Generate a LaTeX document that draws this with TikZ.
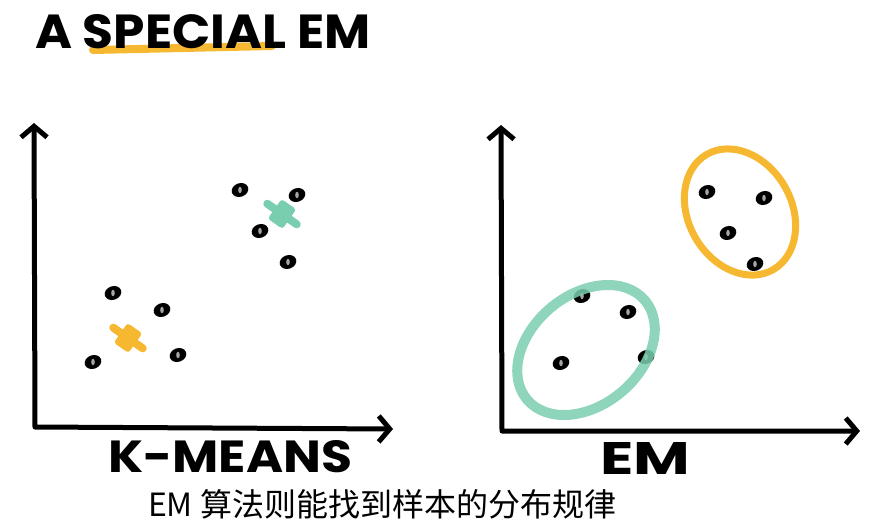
\documentclass[tikz,border=0pt]{standalone}
\usepackage{fontspec}
\usetikzlibrary{arrows.meta}
\newfontfamily\handfont{Poppins}
\newfontfamily\cjkfont{Noto Sans CJK SC}
\definecolor{emteal}{RGB}{122,206,176}
\definecolor{emyellow}{RGB}{245,184,48}

\begin{document}
\begin{tikzpicture}[x=1pt,y=-1pt,
  axis/.style={line width=5pt,line join=round,
    {Straight Barb[length=11pt,width=26pt]}-{Straight Barb[length=11pt,width=26pt]}},
  hand/.style={inner sep=0pt,anchor=west,font=\handfont\bfseries},
  ring/.style={line width=#1}]
  \useasboundingbox (0,0) rectangle (870,523);

  % title with marker stroke
  \draw[emyellow,line width=8pt,line cap=round] (93,50) -- (272,46);
  \node[hand] (title) at (35,32) {\resizebox{335pt}{34pt}{A SPECIAL EM}};

  % axes
  \coordinate (lo) at (35,427);
  \coordinate (ly) at (34,123);
  \coordinate (lx) at (393,429);
  \coordinate (ro) at (502,431);
  \coordinate (ry) at (501,125);
  \coordinate (rx) at (860,431);
  \draw[axis] (ly) -- (lo) -- (lx);
  \draw[axis] (ry) -- (ro) -- (rx);

  % data points
  \foreach \px/\py in {240/190, 297/195, 260/231, 288/262, 113/293, 162/310, 93/362, 178/355,
                       707/192, 764/198, 728/233, 755/264, 582/296, 628/312, 561/363, 646/357}{
    \fill[black,rotate around={20:(\px,\py)}] (\px,\py) ellipse[x radius=8.5, y radius=6.8];
    \fill[gray!70] (\px,\py) ellipse[x radius=1.8, y radius=3.2];
  }

  % k-means centroids
  \begin{scope}[shift={(282,214)},rotate=-35]
    \draw[emteal,line width=8pt,line cap=round] (-18,0) -- (18,0);
    \fill[emteal,rounded corners=3pt] (-9,-12) rectangle (9,12);
  \end{scope}
  \begin{scope}[shift={(128,338)},rotate=-35]
    \draw[emyellow,line width=8pt,line cap=round] (-18,0) -- (18,0);
    \fill[emyellow,rounded corners=3pt] (-9,-12) rectangle (9,12);
  \end{scope}

  % em clusters
  \draw[emyellow,ring=7pt,rotate around={30:(740,212)}] (740,212) ellipse[x radius=51.5, y radius=66.5];
  \draw[emteal,ring=10pt,opacity=0.85,rotate around={40:(586,350)}] (586,350) ellipse[x radius=77, y radius=55];

  % labels
  \node[hand] (kmeans) at (108,457) {\resizebox{244pt}{32pt}{K-MEANS}};
  \node[hand] (em) at (600,458) {\resizebox{90pt}{32pt}{EM}};
  \node[inner sep=0pt,font=\cjkfont\fontsize{32}{38}\selectfont] (caption) at (382,504) {EM 算法则能找到样本的分布规律};
\end{tikzpicture}
\end{document}
